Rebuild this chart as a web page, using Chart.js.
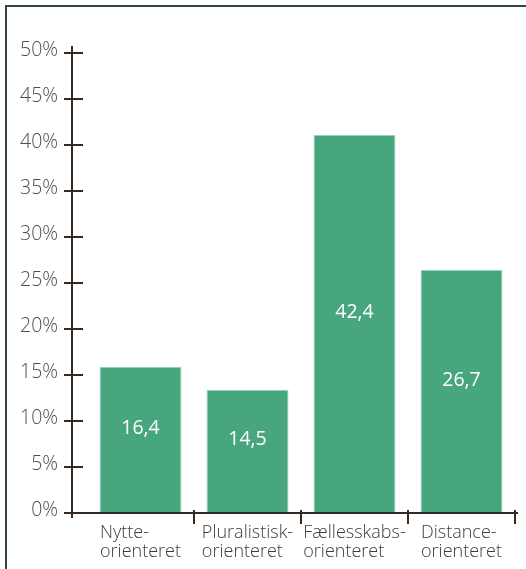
<!DOCTYPE html>
<html>
<head>
<meta charset="utf-8">
<script src="https://cdn.jsdelivr.net/npm/chart.js@4/dist/chart.umd.min.js"></script>
<style>
  html, body { margin: 0; padding: 0; background: #ffffff; }
  #wrap { position: relative; width: 526px; height: 569px; }
</style>
</head>
<body>
<div id="wrap"><canvas id="c" width="526" height="569"></canvas></div>
<script>
// ---- data ----
const categories = [
  ["Nytte-", "orienteret"],
  ["Pluralistisk-", "orienteret"],
  ["Fællesskabs-", "orienteret"],
  ["Distance-", "orienteret"]
];
// bar heights as drawn in the picture (percent)
const barHeights = [15.9, 13.4, 41.1, 26.4];
// value labels printed inside the bars
const valueLabels = ["16,4", "14,5", "42,4", "26,7"];
// y-axis tick values and labels
const yTickValues = [0, 5, 10, 15, 20, 25, 30, 35, 40, 45, 50];
const yTickLabels = ["0%", "5%", "10%", "15%", "20%", "25%", "30%", "35%", "40%", "45%", "50%"];

const FONT = '"Open Sans", "DejaVu Sans", sans-serif';
const AXIS = '#342a22';

const customAxes = {
  id: 'customAxes',
  afterDatasetsDraw(chart) {
    const ctx = chart.ctx;
    const xs = chart.scales.x, ys = chart.scales.y;
    const y0 = ys.getPixelForValue(0);
    const catW = (xs.right - xs.left) / categories.length;
    ctx.save();
    // frame
    ctx.strokeStyle = '#34493d';
    ctx.lineWidth = 2;
    ctx.beginPath();
    ctx.moveTo(6, 569); ctx.lineTo(6, 6); ctx.lineTo(526, 6);
    ctx.stroke();

    // y axis
    ctx.strokeStyle = AXIS;
    ctx.lineWidth = 2;
    ctx.beginPath();
    ctx.moveTo(72, ys.top - 7); ctx.lineTo(72, y0 + 5);
    ctx.stroke();
    // y ticks + labels
    ctx.font = '300 19.5px ' + FONT;
    ctx.fillStyle = '#4d4d4d';
    ctx.textAlign = 'right';
    ctx.textBaseline = 'alphabetic';
    yTickValues.forEach((v, i) => {
      const y = ys.getPixelForValue(v);
      ctx.beginPath();
      ctx.moveTo(64, y); ctx.lineTo(83, y);
      ctx.stroke();
      ctx.fillText(yTickLabels[i], 58, y + 3);
    });

    // x axis
    ctx.beginPath();
    ctx.moveTo(64, y0); ctx.lineTo(518, y0);
    ctx.stroke();
    // x ticks at category boundaries
    categories.forEach((c, i) => {
      const x = xs.getPixelForValue(i) + catW / 2;
      ctx.beginPath();
      ctx.moveTo(x, y0 - 3); ctx.lineTo(x, y0 + 11);
      ctx.stroke();
    });

    // category labels: left-aligned block centred on category
    ctx.font = '300 18px ' + FONT;
    ctx.fillStyle = '#3c3c3c';
    ctx.textAlign = 'left';
    categories.forEach((lines, i) => {
      const cx = xs.getPixelForValue(i);
      const w = Math.max(...lines.map(l => ctx.measureText(l).width));
      const left = cx - w / 2;
      lines.forEach((l, k) => ctx.fillText(l, left, y0 + 25 + k * 19));
    });

    // value labels inside bars
    const meta = chart.getDatasetMeta(0);
    ctx.font = '400 19.5px ' + FONT;
    ctx.fillStyle = '#ffffff';
    ctx.textAlign = 'center';
    ctx.textBaseline = 'middle';
    meta.data.forEach((bar, i) => {
      const yc = (bar.y + bar.base) / 2 - 11.5;
      ctx.fillText(valueLabels[i], bar.x, yc);
    });
    ctx.restore();
  }
};

new Chart(document.getElementById('c'), {
  type: 'bar',
  data: {
    labels: categories,
    datasets: [{
      data: barHeights,
      backgroundColor: '#48a67e',
      borderColor: '#96d2b6',
      borderWidth: 1,
      barPercentage: 0.766,
      categoryPercentage: 1.0
    }]
  },
  options: {
    responsive: false,
    animation: false,
    events: [],
    layout: { padding: { left: 87, right: 11, top: 53, bottom: 56 } },
    plugins: { legend: { display: false }, tooltip: { enabled: false } },
    scales: {
      x: { display: false, offset: true },
      y: { display: false, min: 0, max: 50 }
    }
  },
  plugins: [customAxes]
});
</script>
</body>
</html>
